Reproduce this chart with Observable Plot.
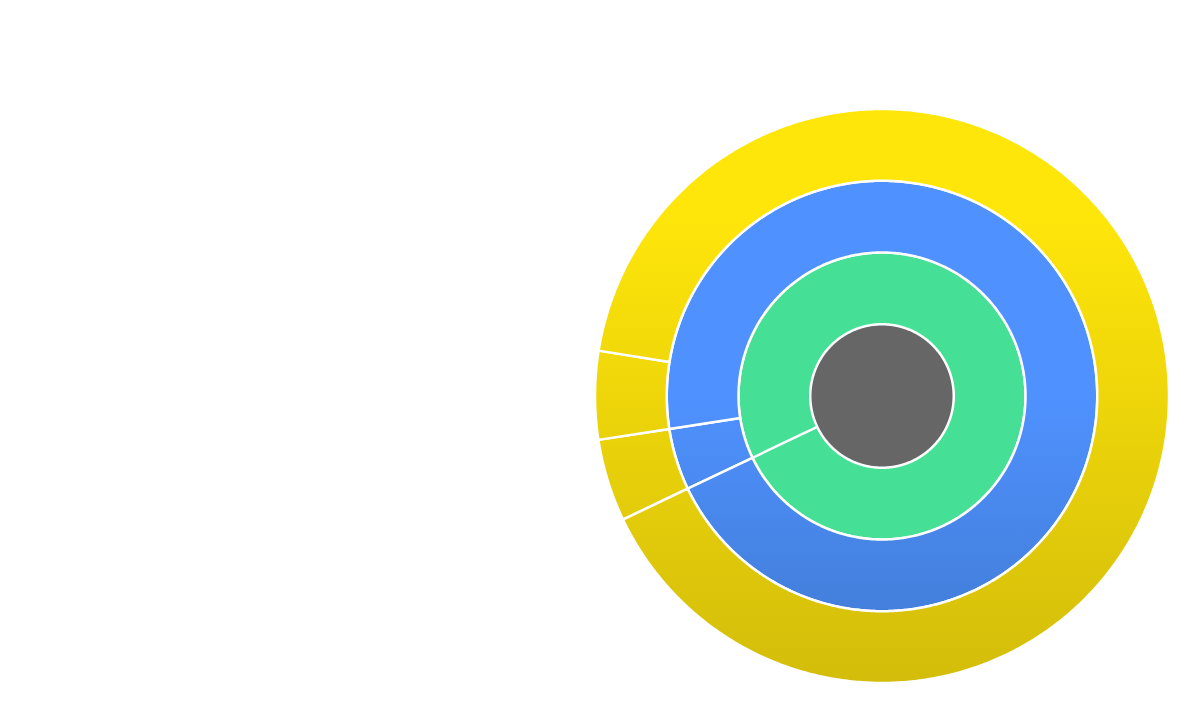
<!DOCTYPE html>
<html><head><meta charset="utf-8">
<script src="https://cdn.jsdelivr.net/npm/d3@7"></script>
<script src="https://cdn.jsdelivr.net/npm/@observablehq/plot@0.6"></script>
<style>html,body{margin:0;padding:0;background:#fff;overflow:hidden}</style>
</head><body><div id="chart"></div>
<script>
// ---- data ----
const nodeIds     = ["root", "hub", "branchSmall", "branchBig", "leafSmall", "leafMid", "leafBig"];
const nodeParents = [null,   "root", "hub",        "hub",       "branchSmall", "branchBig", "branchBig"];
const leafValues  = [0, 0, 0, 0, 4.64, 4.97, 90.39];
const depthFills  = ["#666666", "#45E095", "url(#gBlue)", "url(#gYellow)"];
const blueStops   = ["#4F91FF", "#437FDB"];
const yellowStops = ["#FFE60A", "#D3BD0A"];

// ---- layout constants ----
const W = 1190, H = 704;
const cx = 882, cy = 396;
const ringWidth = 71.75;
const startDeg = 244.5;

// ---- hierarchy ----
const table = nodeIds.map((id, i) => ({id, parent: nodeParents[i], value: leafValues[i]}));
const root = d3.stratify().id(d => d.id).parentId(d => d.parent)(table)
  .sum(d => d.value);
d3.partition().size([360, 4])(root);

const rows = [];
root.each(n => {
  const a0 = n.x0 + startDeg, a1 = n.x1 + startDeg;
  const r0 = n.y0 * ringWidth, r1 = n.y1 * ringWidth;
  const steps = Math.max(2, Math.ceil((a1 - a0) / 0.5));
  for (let k = 0; k <= steps; k++) {
    const a = (a0 + (a1 - a0) * k / steps) * Math.PI / 180;
    rows.push({
      id: n.id, depth: n.depth, fill: depthFills[n.depth],
      xi: r0 * Math.sin(a), yi: r0 * Math.cos(a),
      xo: r1 * Math.sin(a), yo: r1 * Math.cos(a)
    });
  }
});

const plot = Plot.plot({
  width: W, height: H,
  margin: 0,
  x: {domain: [-cx, W - cx], axis: null},
  y: {domain: [cy - H, cy], axis: null},
  color: {type: "identity"},
  marks: [
    Plot.area(rows.filter(d => d.depth === 0), {
      x1: "xi", y1: "yi", x2: "xo", y2: "yo", z: "id", fill: "fill", stroke: "none"
    }),
    Plot.area(rows.filter(d => d.depth > 0), {
      x1: "xi", y1: "yi", x2: "xo", y2: "yo", z: "id", fill: "fill",
      stroke: "white", strokeWidth: 2.5, strokeLinejoin: "round"
    })
  ]
});

const ys = plot.scale("y");
const outerR = 4 * ringWidth, blueR = 3 * ringWidth;
const defs = d3.select(plot).insert("defs", ":first-child");
function grad(id, rTop, rBottom, stops) {
  const g = defs.append("linearGradient").attr("id", id)
    .attr("gradientUnits", "userSpaceOnUse")
    .attr("x1", 0).attr("x2", 0)
    .attr("y1", ys.apply(rTop)).attr("y2", ys.apply(rBottom));
  g.append("stop").attr("offset", 0).attr("stop-color", stops[0]);
  g.append("stop").attr("offset", 1).attr("stop-color", stops[1]);
}
grad("gYellow", 0.65 * outerR, -outerR, yellowStops);
grad("gBlue", 0, -blueR, blueStops);

document.getElementById("chart").appendChild(plot);
</script>
</body></html>
